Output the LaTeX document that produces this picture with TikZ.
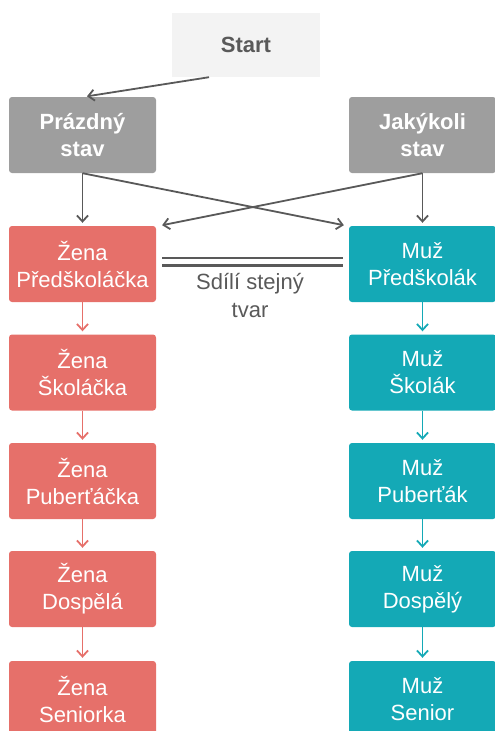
\documentclass[tikz,border=0pt]{standalone}
\usepackage{fontspec}
\setmainfont{Liberation Sans}
\usetikzlibrary{arrows.meta}
\definecolor{zenared}{HTML}{E6706A}
\definecolor{muzteal}{HTML}{14A9B6}
\definecolor{stavgray}{HTML}{9E9E9E}
\definecolor{startgray}{HTML}{F3F3F3}
\definecolor{textgray}{HTML}{595959}
\begin{document}
\begin{tikzpicture}[x=1pt,y=-1pt,
    box/.style={shape=rectangle,rounded corners=3pt,minimum width=147pt,minimum height=76pt,
      align=center,text=white,font=\fontsize{22}{27}\selectfont},
    zena/.style={box,fill=zenared},
    muz/.style={box,fill=muzteal},
    stav/.style={box,fill=stavgray,font=\fontsize{22}{27}\selectfont\bfseries},
    sipka/.style={-{Straight Barb[length=6pt,width=11pt,line width=1.8pt]},line width=1.8pt,shorten >=3pt}]
    \useasboundingbox (0,0) rectangle (495,731);

    \node[shape=rectangle,fill=startgray,minimum width=148pt,minimum height=64pt,
      text=textgray,font=\fontsize{22}{27}\selectfont\bfseries] (start) at (246,45) {Start};
    \node[stav] (prazdny) at (82.5,135) {Prázdný\\stav};
    \node[stav] (jakykoli) at (422.5,135) {Jakýkoli\\stav};

    \node[zena] (zena1) at (82.5,264) {Žena\\Předškoláčka};
    \node[zena] (zena2) at (82.5,372.5) {Žena\\Školáčka};
    \node[zena] (zena3) at (82.5,481) {Žena\\Puberťáčka};
    \node[zena] (zena4) at (82.5,589) {Žena\\Dospělá};
    \node[zena] (zena5) at (82.5,699) {Žena\\Seniorka};

    \node[muz] (muz1) at (422.5,264) {Muž\\Předškolák};
    \node[muz] (muz2) at (422.5,372.5) {Muž\\Školák};
    \node[muz] (muz3) at (422.5,481) {Muž\\Puberťák};
    \node[muz] (muz4) at (422.5,589) {Muž\\Dospělý};
    \node[muz] (muz5) at (422.5,699) {Muž\\Senior};

    \node[align=center,text=textgray,font=\fontsize{22}{28}\selectfont] (tvar) at (250,296) {Sdílí stejný\\tvar};

    \draw[sipka,textgray] ([xshift=-37pt]start.south) -- ([xshift=1.5pt]prazdny.north);
    \draw[sipka,textgray] (prazdny.south) -- (zena1.north);
    \draw[sipka,textgray] (prazdny.south) -- ([xshift=-2pt]muz1.north west);
    \draw[sipka,textgray] (jakykoli.south) -- (muz1.north);
    \draw[sipka,textgray] (jakykoli.south) -- ([xshift=3pt]zena1.north east);

    \path (zena1) edge[sipka,draw=zenared] (zena2);
    \path (zena2) edge[sipka,draw=zenared] (zena3);
    \path (zena3) edge[sipka,draw=zenared] (zena4);
    \path (zena4) edge[sipka,draw=zenared] (zena5);

    \path (muz1) edge[sipka,draw=muzteal] (muz2);
    \path (muz2) edge[sipka,draw=muzteal] (muz3);
    \path (muz3) edge[sipka,draw=muzteal] (muz4);
    \path (muz4) edge[sipka,draw=muzteal] (muz5);

    \draw[textgray,line width=2.5pt,double=white,double distance=5pt]
      ([xshift=6pt,yshift=2.5pt]zena1.east) -- ([xshift=-6pt,yshift=2.5pt]muz1.west);
\end{tikzpicture}
\end{document}
